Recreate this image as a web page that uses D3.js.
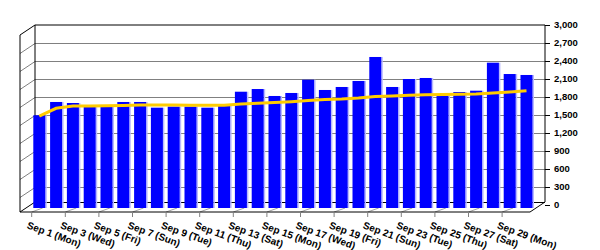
<!DOCTYPE html>
<html>
<head>
<meta charset="utf-8">
<script src="https://d3js.org/d3.v7.min.js"></script>
<style>
  body { margin: 0; background: #fff; }
  text { font-family: "Liberation Sans", Arial, sans-serif; }
</style>
</head>
<body>
<div id="chart"></div>
<script>
// categories: one per day in September
const days = [
  "Sep 1 (Mon)", "Sep 2 (Tue)", "Sep 3 (Wed)", "Sep 4 (Thu)", "Sep 5 (Fri)",
  "Sep 6 (Sat)", "Sep 7 (Sun)", "Sep 8 (Mon)", "Sep 9 (Tue)", "Sep 10 (Wed)",
  "Sep 11 (Thu)", "Sep 12 (Fri)", "Sep 13 (Sat)", "Sep 14 (Sun)", "Sep 15 (Mon)",
  "Sep 16 (Tue)", "Sep 17 (Wed)", "Sep 18 (Thu)", "Sep 19 (Fri)", "Sep 20 (Sat)",
  "Sep 21 (Sun)", "Sep 22 (Mon)", "Sep 23 (Tue)", "Sep 24 (Wed)", "Sep 25 (Thu)",
  "Sep 26 (Fri)", "Sep 27 (Sat)", "Sep 28 (Sun)", "Sep 29 (Mon)", "Sep 30 (Tue)"
];

// daily values (blue bars)
const dailyValues = [
  1545, 1767, 1750, 1688, 1688, 1767, 1767, 1672, 1690, 1690,
  1672, 1700, 1938, 1983, 1867, 1917, 2138, 1967, 2017, 2117,
  2517, 2017, 2150, 2167, 1870, 1933, 1955, 2422, 2233, 2217
];

// running average (yellow line)
const averageValues = [
  1533, 1662, 1700, 1700, 1705, 1708, 1717, 1717, 1717, 1712,
  1712, 1712, 1733, 1745, 1758, 1772, 1792, 1808, 1817, 1833,
  1858, 1867, 1878, 1887, 1892, 1895, 1900, 1917, 1933, 1955
];

const yTicks = [0, 300, 600, 900, 1200, 1500, 1800, 2100, 2400, 2700, 3000];

// layout
const W = 600, H = 250;
const wall = { left: 35, right: 545, top: 25, bottom: 202 };
const depth = { dx: 15, dy: 10 };
const barPlane = { dy: 3 };
const barWidth = 12;

const svg = d3.select("#chart").append("svg")
  .attr("width", W)
  .attr("height", H);

const y = d3.scaleLinear().domain([0, 3000]).range([205, 25]);
const x = d3.scalePoint().domain(days).range([39.3, 526.5]);

// back wall
svg.append("rect")
  .attr("x", wall.left).attr("y", wall.top)
  .attr("width", wall.right - wall.left)
  .attr("height", wall.bottom - wall.top)
  .attr("fill", "#fff");

// gridlines on back wall + left wall
const grid = svg.append("g");
yTicks.filter(t => t > 0 && t < 3000).forEach(t => {
  grid.append("line")
    .attr("x1", wall.left).attr("x2", wall.right)
    .attr("y1", y(t) + 0.5).attr("y2", y(t) + 0.5)
    .attr("stroke", "#808080");
  grid.append("line")
    .attr("x1", wall.left).attr("x2", wall.left - depth.dx)
    .attr("y1", y(t) + 0.5).attr("y2", y(t) + depth.dy + 0.5)
    .attr("stroke", "#808080");
});

// floor gridlines at labelled ticks
const labelled = days.filter((d, i) => i % 2 === 0);
labelled.forEach(d => {
  const fx = x(d) - 7.6;
  grid.append("line")
    .attr("x1", fx).attr("y1", wall.bottom + depth.dy)
    .attr("x2", fx + 11).attr("y2", wall.bottom + depth.dy - 4)
    .attr("stroke", "#a0a0a0");
});

// wall / floor outlines
const outline = svg.append("g").attr("fill", "none").attr("stroke", "#000");
outline.append("path").attr("d", d3.line()([
  [wall.left, wall.bottom], [wall.left, wall.top], [wall.right, wall.top], [wall.right, wall.bottom]
]));
outline.append("path").attr("d", d3.line()([
  [wall.left, wall.top], [wall.left - depth.dx, wall.top + depth.dy],
  [wall.left - depth.dx, wall.bottom + depth.dy], [wall.right - depth.dx, wall.bottom + depth.dy],
  [wall.right, wall.bottom]
]));
outline.append("line")
  .attr("x1", wall.left).attr("x2", wall.right)
  .attr("y1", wall.bottom + 0.5).attr("y2", wall.bottom + 0.5);
outline.append("line")
  .attr("x1", wall.left).attr("y1", wall.bottom)
  .attr("x2", wall.left - depth.dx).attr("y2", wall.bottom + depth.dy);

// bars
const bars = svg.append("g");
bars.selectAll(".side")
  .data(days)
  .join("rect")
  .attr("class", "side")
  .attr("x", d => x(d) + barWidth / 2)
  .attr("y", (d, i) => y(dailyValues[i]) + barPlane.dy)
  .attr("width", 1.5)
  .attr("height", (d, i) => y(0) - y(dailyValues[i]))
  .attr("fill", "#b8b8ff");
bars.selectAll(".bar")
  .data(days)
  .join("rect")
  .attr("class", "bar")
  .attr("x", d => x(d) - barWidth / 2)
  .attr("y", (d, i) => y(dailyValues[i]) + barPlane.dy)
  .attr("width", barWidth)
  .attr("height", (d, i) => y(0) - y(dailyValues[i]))
  .attr("fill", "#0000ff");

// average line
svg.append("path")
  .datum(averageValues)
  .attr("fill", "none")
  .attr("stroke", "#ffcc00")
  .attr("stroke-width", 3)
  .attr("d", d3.line()
    .x((v, i) => x(days[i]))
    .y(v => y(v) + barPlane.dy));

// right axis
const yAxis = svg.append("g");
yTicks.forEach(t => {
  yAxis.append("line")
    .attr("x1", wall.right).attr("x2", wall.right + 5)
    .attr("y1", y(t) + 0.5).attr("y2", y(t) + 0.5)
    .attr("stroke", "#000");
  yAxis.append("text")
    .attr("x", wall.right + 9)
    .attr("y", y(t))
    .attr("dy", "0.35em")
    .attr("font-size", 9.5)
    .attr("font-weight", "bold")
    .attr("fill", "#000")
    .text(d3.format(",")(t));
});

// x labels
const xAxis = svg.append("g");
labelled.forEach(d => {
  const fx = x(d) - 7.6;
  xAxis.append("line")
    .attr("x1", fx).attr("x2", fx)
    .attr("y1", wall.bottom + depth.dy).attr("y2", wall.bottom + depth.dy + 5)
    .attr("stroke", "#808080");
  xAxis.append("text")
    .attr("transform", `translate(${fx - 3},${wall.bottom + depth.dy + 9}) rotate(20)`)
    .attr("dy", "0.75em")
    .attr("font-size", 10)
    .attr("font-weight", "bold")
    .attr("fill", "#000")
    .text(d);
});
</script>
</body>
</html>
